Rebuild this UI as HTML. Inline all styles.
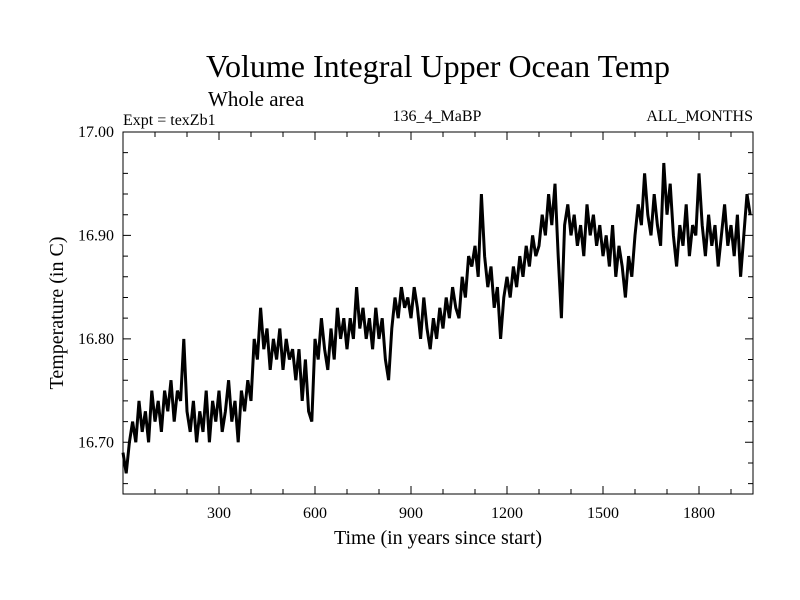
<!DOCTYPE html>
<html><head><meta charset="utf-8"><style>
body{margin:0;background:#fff}
svg{display:block}
text{font-family:"Liberation Serif",serif;fill:#000}
</style></head><body>
<svg id="c" width="800" height="600">
<text x="438" y="77" font-size="32" text-anchor="middle">Volume Integral Upper Ocean Temp</text>
<text x="208" y="106" font-size="21">Whole area</text>
<text x="123" y="125" font-size="16">Expt = texZb1</text>
<text x="437" y="121" font-size="16" text-anchor="middle">136_4_MaBP</text>
<text x="753" y="121" font-size="16" text-anchor="end">ALL_MONTHS</text>
<text x="438" y="544" font-size="20" text-anchor="middle">Time (in years since start)</text>
<text transform="translate(63,313) rotate(-90)" font-size="20" text-anchor="middle">Temperature (in C)</text>
<g id="ax"></g>
<rect x="123" y="132" width="630" height="362" fill="none" stroke="#000" stroke-width="1"/>
</svg>
<script>
const years=[];for(let i=0;i<197;i++)years.push(i*10);
const temps=[16.69,16.67,16.70,16.72,16.70,16.74,16.71,16.73,16.70,16.75,
16.72,16.74,16.71,16.75,16.73,16.76,16.72,16.75,16.74,16.80,
16.73,16.71,16.74,16.70,16.73,16.71,16.75,16.70,16.74,16.72,
16.75,16.71,16.73,16.76,16.72,16.74,16.70,16.75,16.73,16.76,
16.74,16.80,16.78,16.83,16.79,16.81,16.77,16.80,16.78,16.81,
16.77,16.80,16.78,16.79,16.76,16.79,16.74,16.78,16.73,16.72,
16.80,16.78,16.82,16.79,16.77,16.81,16.78,16.83,16.80,16.82,
16.79,16.82,16.80,16.85,16.81,16.83,16.80,16.82,16.79,16.83,
16.80,16.82,16.78,16.76,16.81,16.84,16.82,16.85,16.83,16.84,
16.82,16.85,16.83,16.80,16.84,16.81,16.79,16.82,16.80,16.83,
16.81,16.84,16.82,16.85,16.83,16.82,16.86,16.84,16.88,16.87,
16.89,16.86,16.94,16.88,16.85,16.87,16.83,16.85,16.80,16.84,
16.86,16.84,16.87,16.85,16.88,16.86,16.89,16.87,16.90,16.88,
16.89,16.92,16.90,16.94,16.91,16.95,16.88,16.82,16.91,16.93,
16.90,16.92,16.89,16.91,16.88,16.93,16.90,16.92,16.89,16.91,
16.88,16.90,16.87,16.91,16.86,16.89,16.87,16.84,16.88,16.86,
16.90,16.93,16.91,16.96,16.92,16.90,16.94,16.91,16.89,16.97,
16.92,16.95,16.90,16.87,16.91,16.89,16.93,16.88,16.91,16.90,
16.96,16.91,16.88,16.92,16.89,16.91,16.87,16.90,16.93,16.89,
16.91,16.88,16.92,16.86,16.90,16.94,16.92];
const xTickLabels=[300,600,900,1200,1500,1800];
const yTickLabels=["16.70","16.80","16.90","17.00"];
const X0=123,X1=753,Y0=132,Y1=494,XMAX=1968.75,YMIN=16.65,YMAX=17.0;
const sx=v=>X0+v/XMAX*(X1-X0);
const sy=v=>Y1-(v-YMIN)/(YMAX-YMIN)*(Y1-Y0);
const NS="http://www.w3.org/2000/svg";
const g=document.getElementById('ax');
function mk(t,a){const e=document.createElementNS(NS,t);for(const k in a)e.setAttribute(k,a[k]);g.appendChild(e);return e;}
for(let y=100;y<XMAX;y+=100){
 const big=y%300===0,L=big?8:5;
 const t=mk('path',{d:`M${sx(y)},${Y1}v${-L}M${sx(y)},${Y0}v${L}`,stroke:'#000','stroke-width':1});
 
 
}
xTickLabels.forEach(v=>{const t=mk('text',{x:sx(v),y:518,'font-size':16,'text-anchor':'middle'});t.textContent=v;
 
 });
for(let k=0;k<=17;k++){const v=16.66+k*0.02;if(v>17.001)break;
 const big=Math.abs(Math.round(v*100)%10)<0.5,L=big?8:5;
 const t=mk('path',{d:`M${X0},${sy(v)}h${L}M${X1},${sy(v)}h${-L}`,stroke:'#000','stroke-width':1});
 
 }
yTickLabels.forEach(v=>{const t=mk('text',{x:114,y:sy(+v)+5,'font-size':16,'text-anchor':'end'});t.textContent=v;
 
 });
const d=years.map((y,i)=>(i?'L':'M')+sx(y).toFixed(1)+','+sy(temps[i]).toFixed(1)).join('');
const ln=mk('path',{d:d,fill:'none',stroke:'#000','stroke-width':3,'stroke-linejoin':'miter'});


</script>
</body></html>
